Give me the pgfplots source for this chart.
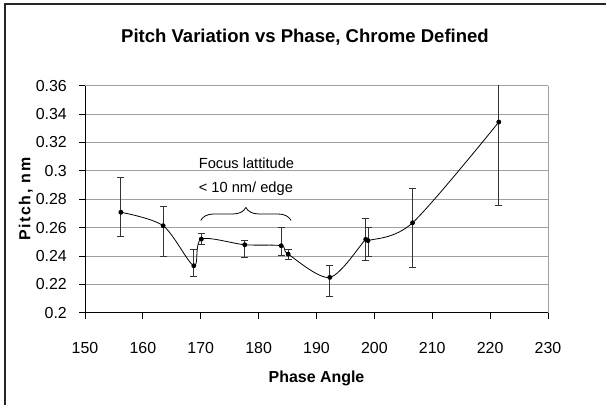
\documentclass[border=0pt]{standalone}
\usepackage{pgfplots}
\pgfplotsset{compat=1.18}
\usepackage{fontspec}
\setmainfont{Liberation Sans}
\usetikzlibrary{decorations.pathreplacing}
\begin{document}
\begin{tikzpicture}[x=1bp,y=1bp]
\path[use as bounding box] (0,0) rectangle (606,404);
\draw[line width=1.5bp, black!85] (5,-10) -- (5,400) -- (620,400);
\node[anchor=base, font=\fontsize{18.6}{22}\selectfont\bfseries] at (305,361.3) {Pitch Variation vs Phase, Chrome Defined};
\begin{axis}[
  at={(85bp,91.3bp)}, anchor=south west,
  width=463bp, height=227bp, scale only axis,
  xmin=150, xmax=230, ymin=0.2, ymax=0.36,
  xtick={150,160,...,230},
  ytick={0.2,0.22,0.24,0.26,0.28,0.3,0.32,0.34,0.36},
  axis lines*=left,
  axis line style={black, line width=0.8bp},
  tick style={black, line width=0.8bp},
  tick align=outside,
  major tick length=6bp,
  ymajorgrids,
  major grid style={gray!75, line width=0.8bp},
  extra x ticks={230}, extra x tick labels={},
  extra x tick style={grid=major, major tick length=0pt},
  /pgf/number format/assume math mode=true,
  /pgf/number format/fixed,
  ticklabel style={font=\fontsize{16}{19}\selectfont, inner sep=0pt},
  xticklabel style={anchor=base, yshift=-34.3bp},
  yticklabel style={anchor=east, xshift=-12bp},
  xlabel={Phase Angle},
  ylabel={\addfontfeature{LetterSpace=10}Pitch, nm},
  label style={font=\fontsize{16}{19}\selectfont\bfseries},
  xlabel style={at={(axis description cs:0.5,-0.288)}, anchor=center},
  ylabel style={at={(axis description cs:-0.128,0.5)}, anchor=center, rotate=0},
  clip=true,
]
\addplot[black, line width=0.8bp, smooth, tension=0.5, mark=*, mark size=2bp,
  mark options={solid, fill=black},
  error bars/.cd, y dir=both, y explicit,
  error bar style={black!80, line width=0.8bp},
  error mark options={rotate=90, mark size=3.5bp, black!80, line width=0.8bp}]
coordinates {
  (156.2,0.2708) += (0,0.0248) -= (0,0.0168)
  (163.5,0.2613) += (0,0.0139) -= (0,0.0218)
  (168.8,0.2331) += (0,0.0116) -= (0,0.0078)
  (170.1,0.2519) += (0,0.0043) -= (0,0.0037)
  (177.6,0.2479) += (0,0.0033) -= (0,0.0092)
  (183.9,0.2472) += (0,0.0128) -= (0,0.0068)
  (185.1,0.2413) += (0,0.0034) -= (0,0.0035)
  (192.3,0.2249) += (0,0.0082) -= (0,0.0137)
  (198.5,0.2517) += (0,0.0148) -= (0,0.0151)
  (198.9,0.2508) += (0,0.0092) -= (0,0.0113)
  (206.6,0.2634) += (0,0.0243) -= (0,0.0314)
  (221.5,0.3344) += (0,0.0586) -= (0,0.0587)
};
\node[font=\fontsize{14.7}{17}\selectfont] at (axis cs:177.9,0.3055) {Focus lattitude};
\node[font=\fontsize{14.7}{17}\selectfont] at (axis cs:177.8,0.2872) {< 10 nm/ edge};
\draw[black, line width=0.8bp, decorate, decoration={brace, amplitude=13bp}] (axis cs:170,0.2650) -- (axis cs:185.6,0.2650);
\end{axis}
\end{tikzpicture}
\end{document}
